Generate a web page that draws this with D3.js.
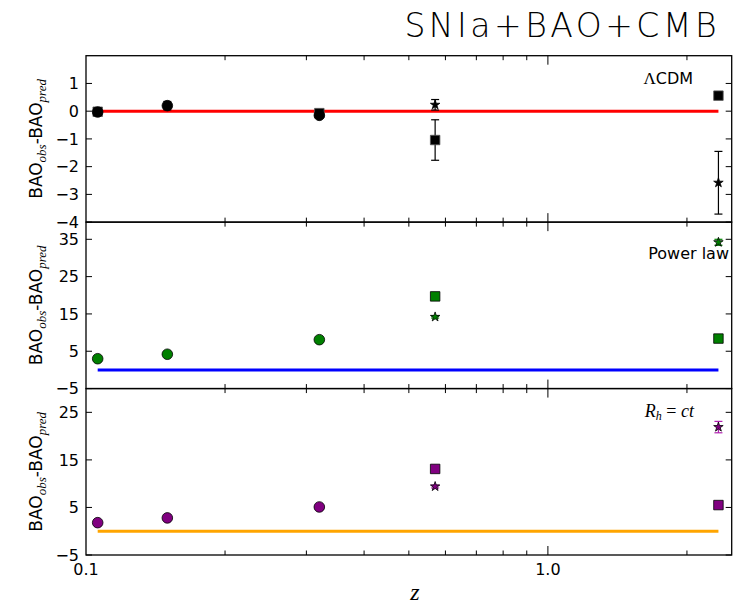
<!DOCTYPE html>
<html>
<head>
<meta charset="utf-8">
<script src="https://cdn.jsdelivr.net/npm/d3@7"></script>
<style>
  body { margin: 0; background: #fff; }
</style>
</head>
<body>
<svg id="svg"></svg>
<script>
var W = 752, H = 607;
var margin = {top: 55.7, right: 20.3, bottom: 52, left: 86};
var sans = "DejaVu Sans, sans-serif", serif = "Liberation Serif, DejaVu Serif, serif";

// redshifts of the BAO points
var zCirc = [0.106, 0.15, 0.32];
var zSq = [0.106, 0.32, 0.57, 2.34];
var zStar = [0.57, 2.34];
var zLine = [0.106, 2.34];

// LCDM residuals
var lcdmCirc = [-0.03, 0.2, -0.15], lcdmCircErr = [0.08, 0.15, 0.1];
var lcdmSq = [-0.02, -0.07, -1.04, 0.56], lcdmSqErr = [0.05, 0.05, 0.73, 0.12];
var lcdmStar = [0.23, -2.58], lcdmStarErr = [0.19, 1.13];

// power law residuals
var plCirc = [3.0, 4.2, 8.1];
var plSq = [19.7, 8.4];
var plStar = [14.2, 34.2], plStarErr = [0.3, 0.8];

// Rh=ct residuals
var rhCirc = [1.8, 2.8, 5.1];
var rhSq = [13.1, 5.5];
var rhStar = [9.4, 21.9], rhStarErr = [0.3, 1.2];

var panels = [
  {label: "ΛCDM", domain: [-4, 2], ticks: [-4, -3, -2, -1, 0, 1], fill: "black", err: "black", line: "red",
   circ: lcdmCirc, circErr: lcdmCircErr, zs: zSq, sq: lcdmSq, sqErr: lcdmSqErr, star: lcdmStar, starErr: lcdmStarErr},
  {label: "Power law", domain: [-5, 39.6], ticks: [-5, 5, 15, 25, 35], fill: "green", err: "green", line: "blue",
   circ: plCirc, circErr: null, zs: zStar, sq: plSq, sqErr: null, star: plStar, starErr: plStarErr},
  {label: "Rh", domain: [-5, 30], ticks: [-5, 5, 15, 25], fill: "purple", err: "#b020b0", line: "orange",
   circ: rhCirc, circErr: null, zs: zStar, sq: rhSq, sqErr: null, star: rhStar, starErr: rhStarErr}
];

var svg = d3.select("#svg").attr("width", W).attr("height", H).style("font-family", sans);
var plotW = W - margin.left - margin.right;
var plotH = H - margin.top - margin.bottom;
var panelH = plotH / 3;

var x = d3.scaleLog().domain([0.1, 2.5]).range([margin.left, margin.left + plotW]);
var xMinor = [0.2, 0.3, 0.4, 0.5, 0.6, 0.7, 0.8, 0.9, 2];
var minus = function(v) { return String(v).replace("-", "\u2212"); };

var starPath = d3.symbol().type(d3.symbolStar).size(28)();
var sqPath = d3.symbol().type(d3.symbolSquare).size(90)();

panels.forEach(function(p, i) {
  var top = margin.top + i * panelH;
  var y = d3.scaleLinear().domain(p.domain).range([top + panelH, top]);
  var g = svg.append("g");

  // model line
  g.append("line")
    .attr("x1", x(zLine[0])).attr("x2", x(zLine[1]))
    .attr("y1", y(0)).attr("y2", y(0))
    .attr("stroke", p.line).attr("stroke-width", 3);

  function errbar(zv, v, e, col) {
    if (!e) return;
    var xx = x(zv);
    g.append("line").attr("x1", xx).attr("x2", xx).attr("y1", y(v - e)).attr("y2", y(v + e))
      .attr("stroke", col).attr("stroke-width", 1.2);
    [v - e, v + e].forEach(function(c) {
      g.append("line").attr("x1", xx - 4).attr("x2", xx + 4).attr("y1", y(c)).attr("y2", y(c))
        .attr("stroke", col).attr("stroke-width", 1.2);
    });
  }

  p.sq.forEach(function(v, k) {
    if (p.sqErr) errbar(p.zs[k], v, p.sqErr[k], p.err);
    g.append("path").attr("d", sqPath)
      .attr("transform", "translate(" + x(p.zs[k]) + "," + y(v) + ")")
      .attr("fill", p.fill).attr("stroke", i === 0 ? "#555" : "black").attr("stroke-width", 0.8);
  });
  p.circ.forEach(function(v, k) {
    if (p.circErr) errbar(zCirc[k], v, p.circErr[k], p.err);
    g.append("circle").attr("cx", x(zCirc[k])).attr("cy", y(v)).attr("r", 5.3)
      .attr("fill", p.fill).attr("stroke", "black").attr("stroke-width", 0.8);
  });
  p.star.forEach(function(v, k) {
    errbar(zStar[k], v, p.starErr[k], p.err);
    g.append("path").attr("d", starPath)
      .attr("transform", "translate(" + x(zStar[k]) + "," + y(v) + ")")
      .attr("fill", p.fill).attr("stroke", "black").attr("stroke-width", 0.8);
  });

  // y ticks, inward on both sides
  p.ticks.forEach(function(t) {
    g.append("line").attr("x1", margin.left).attr("x2", margin.left + 6)
      .attr("y1", y(t)).attr("y2", y(t)).attr("stroke", "black");
    g.append("line").attr("x1", margin.left + plotW).attr("x2", margin.left + plotW - 6)
      .attr("y1", y(t)).attr("y2", y(t)).attr("stroke", "black");
    g.append("text").attr("x", margin.left - 7).attr("y", y(t)).attr("dy", "0.36em")
      .attr("text-anchor", "end").attr("font-size", 16).text(minus(t));
  });

  // x ticks, inward top and bottom
  var xt = [{v: 1, len: 9}].concat(xMinor.map(function(v) { return {v: v, len: 4.5}; }));
  xt.forEach(function(t) {
    g.append("line").attr("x1", x(t.v)).attr("x2", x(t.v)).attr("y1", top + panelH).attr("y2", top + panelH - t.len)
      .attr("stroke", "black");
    g.append("line").attr("x1", x(t.v)).attr("x2", x(t.v)).attr("y1", top).attr("y2", top + t.len)
      .attr("stroke", "black");
  });

  // frame
  g.append("rect").attr("x", margin.left).attr("y", top).attr("width", plotW).attr("height", panelH)
    .attr("fill", "none").attr("stroke", "black").attr("stroke-width", 1.3);

  // y label
  var yl = g.append("text").attr("transform", "translate(42," + (top + panelH / 2) + ") rotate(-90)")
    .attr("text-anchor", "middle").attr("font-size", 17);
  yl.append("tspan").text("BAO");
  yl.append("tspan").style("font-family", serif).style("font-style", "italic")
    .attr("font-size", 13).attr("dy", 4).text("obs");
  yl.append("tspan").attr("dy", -4).text("-BAO");
  yl.append("tspan").style("font-family", serif).style("font-style", "italic")
    .attr("font-size", 13).attr("dy", 4).text("pred");

  // model label
  if (i === 0) {
    var ll = g.append("text").attr("x", 693).attr("y", top + 28).attr("text-anchor", "end").attr("font-size", 16);
    ll.append("tspan").style("font-family", serif).attr("font-size", 17).text("Λ");
    ll.append("tspan").text("CDM");
  } else if (i === 1) {
    g.append("text").attr("x", 729).attr("y", top + 37).attr("text-anchor", "end")
      .attr("font-size", 16).text(p.label);
  } else {
    var rl = g.append("text").attr("x", 694).attr("y", top + 28).attr("text-anchor", "end")
      .style("font-family", serif).style("font-style", "italic").attr("font-size", 18);
    rl.append("tspan").text("R");
    rl.append("tspan").attr("font-size", 12).attr("dy", 3).text("h");
    rl.append("tspan").style("font-style", "normal").attr("dy", -3).text(" = ");
    rl.append("tspan").text("ct");
  }
});

// x tick labels
var xLab = [0.1, 1.0];
xLab.forEach(function(v) {
  svg.append("text").attr("x", x(v)).attr("y", margin.top + plotH + 20).attr("text-anchor", "middle")
    .attr("font-size", 16).text(v.toFixed(1));
});

svg.append("text").attr("x", 415).attr("y", 600).attr("text-anchor", "middle")
  .style("font-family", serif).style("font-style", "italic").attr("font-size", 24).text("z");

svg.append("text").attr("x", 720).attr("y", 37).attr("text-anchor", "end")
  .style("font-family", sans).style("font-weight", 200).style("letter-spacing", "3.5px")
  .attr("font-size", 33).text("SNIa+BAO+CMB");
</script>
</body>
</html>
